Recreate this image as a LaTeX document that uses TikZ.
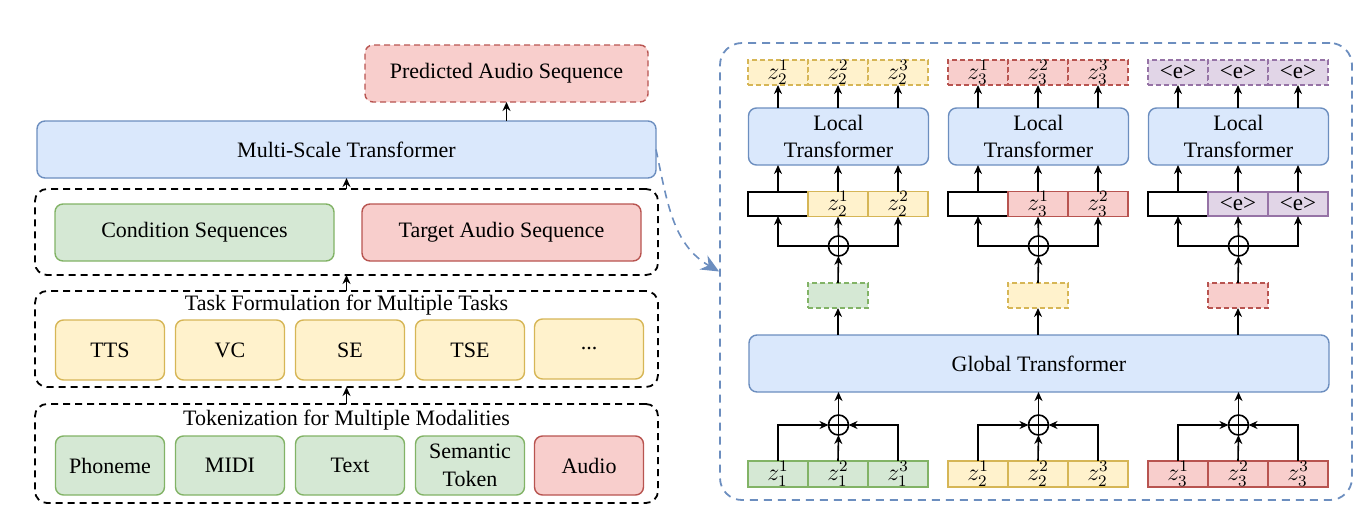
\documentclass[tikz,border=0pt]{standalone}
\usepackage{fontspec}
\setmainfont{Liberation Serif}
\usetikzlibrary{arrows.meta}

\definecolor{bluefill}{HTML}{DAE8FC}
\definecolor{blueline}{HTML}{6C8EBF}
\definecolor{grnfill}{HTML}{D5E8D4}
\definecolor{grnline}{HTML}{82B366}
\definecolor{redfill}{HTML}{F8CECC}
\definecolor{redline}{HTML}{B85450}
\definecolor{yelfill}{HTML}{FFF2CC}
\definecolor{yelline}{HTML}{D6B656}
\definecolor{purfill}{HTML}{E1D5E7}
\definecolor{purline}{HTML}{9673A6}

% label of a token cell: z_k^j, or <e> for the end token
\newcommand{\toklbl}[2]{\if#1e<e>\else$z_{#1}^{#2}$\fi}

\tikzset{
  box/.style={draw, rounded corners=4pt, line width=0.7pt, inner sep=0pt, outer sep=0pt},
  bluebox/.style={box, fill=bluefill, draw=blueline},
  grnbox/.style={box, fill=grnfill, draw=grnline},
  redbox/.style={box, fill=redfill, draw=redline},
  yelbox/.style={box, fill=yelfill, draw=yelline},
  grpbox/.style={draw, line width=0.9pt, dash pattern=on 3.5pt off 2.5pt,
    rounded corners=6pt, inner sep=0pt, outer sep=0pt},
  cell/.style={draw, line width=0.7pt, minimum width=30pt, minimum height=12.5pt,
    inner sep=0pt, outer sep=0pt, font=\fontsize{11.5}{13}\selectfont},
  dashcell/.style={dash pattern=on 2.5pt off 1.5pt},
  grn cell/.style={fill=grnfill, draw=grnline},
  red cell/.style={fill=redfill, draw=redline},
  yel cell/.style={fill=yelfill, draw=yelline},
  pur cell/.style={fill=purfill, draw=purline},
  link/.style={line width=0.8pt, -{Stealth[length=4.5pt,width=4pt]}},
  plus/.style={circle, draw, line width=0.8pt, minimum size=10pt, inner sep=0pt,
    outer sep=0pt,
    path picture={\draw[line width=0.8pt]
      (path picture bounding box.north) -- (path picture bounding box.south)
      (path picture bounding box.west) -- (path picture bounding box.east);}},
}

\begin{document}
\begin{tikzpicture}[x=0.5pt,y=-0.5pt,>=Stealth,
    font=\fontsize{11}{13}\selectfont]
  \useasboundingbox (0,0) rectangle (1362,505);

  % left: overall pipeline
  \node[redbox, dash pattern=on 3pt off 2pt, minimum width=141.5pt, minimum height=28.5pt]
    (pred) at (506.5,73.5) {Predicted Audio Sequence};
  \node[bluebox, minimum width=309.5pt, minimum height=28.5pt]
    (mst) at (346.5,149.5) {Multi-Scale Transformer};

  \node[grpbox, minimum width=311.5pt, minimum height=43pt] (seqgrp) at (346.5,232) {};
  \node[grnbox, minimum width=139.5pt, minimum height=28.5pt]
    (cond) at (194.5,232.5) {Condition Sequences};
  \node[redbox, minimum width=139.5pt, minimum height=28.5pt]
    (target) at (501.5,232.5) {Target Audio Sequence};

  \node[grpbox, minimum width=311.5pt, minimum height=48pt] (taskgrp) at (346.5,339) {};
  \node (tasktitle) at (346.5,305) {Task Formulation for Multiple Tasks};
  \foreach \name/\xc/\lbl in {tts/110/TTS, vc/230/VC, se/350/SE, tse/470/TSE}
    \node[yelbox, minimum width=54.5pt, minimum height=30pt] (\name) at (\xc,350) {\lbl};
  \node[yelbox, minimum width=54.5pt, minimum height=30pt] (more) at (589,349) {...};

  \node[grpbox, minimum width=311.5pt, minimum height=49.5pt] (modgrp) at (346.5,453.5) {};
  \node (modtitle) at (346.5,420) {Tokenization for Multiple Modalities};
  \foreach \name/\xc/\lbl/\sty in {phon/110/Phoneme/grnbox, midi/230/MIDI/grnbox,
      text/350/Text/grnbox, sem/470/{Semantic\\Token}/grnbox, audio/589/Audio/redbox}
    \node[\sty, align=center, minimum width=54.5pt, minimum height=29.5pt,
      font=\fontsize{11}{14}\selectfont] (\name) at (\xc,465.5) {\lbl};

  \draw[link] (mst.north -| pred) -- (pred.south);
  \draw[link] (seqgrp.north) -- (mst.south -| seqgrp);
  \draw[link] (taskgrp.north) -- (seqgrp.south);
  \draw[link] (modgrp.north) -- (taskgrp.south);

  % right: inside the multi-scale transformer
  \node[draw=blueline, line width=0.9pt, dash pattern=on 4pt off 3pt, rounded corners=11pt,
    minimum width=316pt, minimum height=228.5pt, inner sep=0pt] (detail) at (1036,271.5) {};
  \draw[blueline, line width=0.8pt, dash pattern=on 4pt off 3pt,
    -{Stealth[length=9pt,width=8pt]}] (mst.east) to[out=-78,in=150] (detail.west);

  \node[bluebox, minimum width=290pt, minimum height=28.5pt] (gt) at (1039,363.5)
    {Global Transformer};

  \foreach \c/\xa/\tk/\tcol/\qcol/\bk/\bcol in
      {1/748/2/yel/grn/1/grn, 2/948/3/red/yel/2/yel, 3/1148/e/pur/red/3/red} {
    \foreach \j in {1,2,3} {
      \node[cell, \tcol\space cell, dashcell] (t\c-\j) at ({\xa+60*\j-30},72.5)
        {\toklbl{\tk}{\j}};
      \node[cell, \bcol\space cell, minimum height=13pt] (b\c-\j) at ({\xa+60*\j-30},474)
        {$z_{\bk}^{\j}$};
    }
    \node[bluebox, align=center, minimum width=90pt, minimum height=28.5pt,
      font=\fontsize{11}{13.5}\selectfont] (lt\c) at ({\xa+90.5},136.5)
      {Local\\Transformer};
    \node[cell, draw=black, fill=white, minimum height=12pt] (k\c-1) at ({\xa+30},204) {};
    \node[cell, \tcol\space cell, minimum height=12pt] (k\c-2) at ({\xa+90},204)
      {\toklbl{\tk}{1}};
    \node[cell, \tcol\space cell, minimum height=12pt] (k\c-3) at ({\xa+150},204)
      {\toklbl{\tk}{2}};
    \node[plus] (ap\c) at ({\xa+90.5},246) {};
    \node[cell, \qcol\space cell, dashcell] (q\c) at ({\xa+90},295.5) {};
    \node[plus] (bp\c) at ({\xa+90.5},425) {};

    \foreach \j in {1,2,3} {
      \draw[link] (lt\c.north -| t\c-\j) -- (t\c-\j.south);
      \draw[link] (k\c-\j.north) -- (lt\c.south -| k\c-\j);
    }
    \draw[link] (ap\c.north) -- (k\c-2.south);
    \draw[link] (ap\c.west) -| (k\c-1.south);
    \draw[link] (ap\c.east) -| (k\c-3.south);
    \draw[link] (q\c.north) -- (ap\c.south);
    \draw[link] (gt.north -| q\c) -- (q\c.south);
    \draw[link] (b\c-1.north) |- (bp\c.west);
    \draw[link] (b\c-3.north) |- (bp\c.east);
    \draw[link] (b\c-2.north) -- (bp\c.south);
    \draw[link] (bp\c.north) -- (gt.south -| bp\c);
  }
\end{tikzpicture}
\end{document}
